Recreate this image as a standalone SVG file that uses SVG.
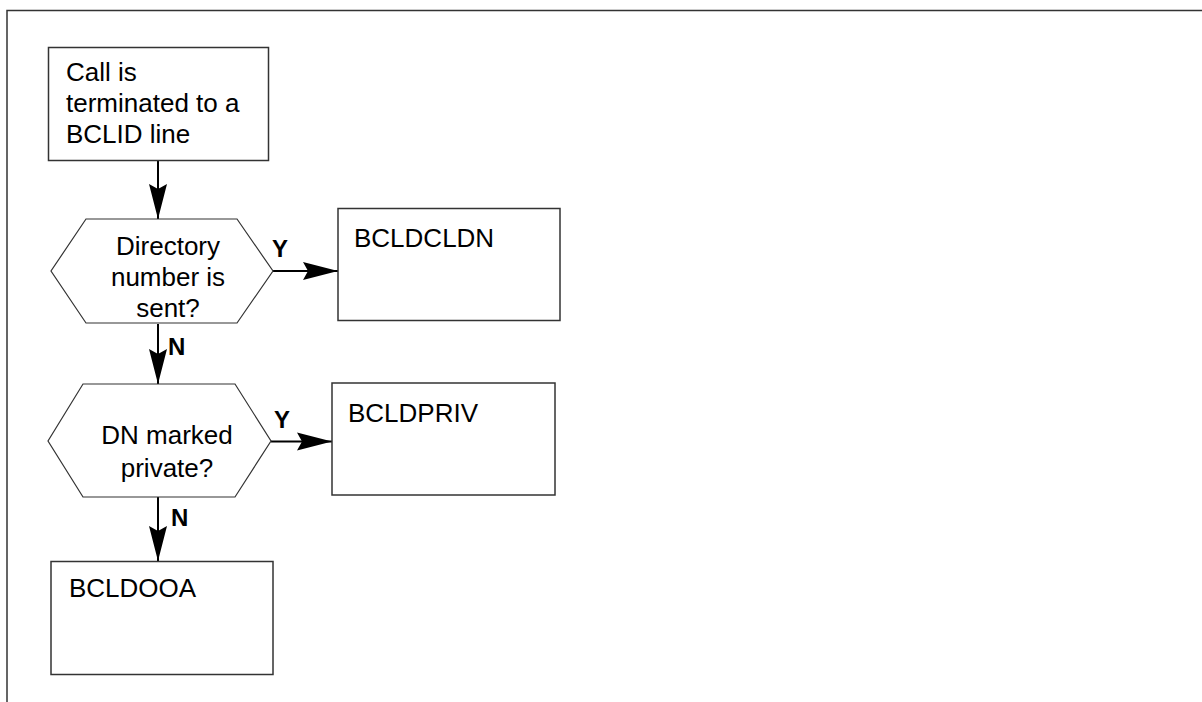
<svg xmlns="http://www.w3.org/2000/svg" width="1202" height="702" viewBox="0 0 1202 702">
<style>
  .box { fill: #ffffff; stroke: #333333; stroke-width: 1.5; }
  .hex { fill: #ffffff; stroke: #333333; stroke-width: 1.2; }
  .frame { fill: none; stroke: #333333; stroke-width: 1.5; }
  .t { font-family: "Liberation Sans", Arial, sans-serif; font-size: 26px; fill: #000000; }
  .c { text-anchor: middle; }
  .lbl { font-family: "Liberation Sans", Arial, sans-serif; font-size: 24px; font-weight: bold; fill: #000000; }
  .conn { fill: none; stroke: #000000; stroke-width: 2; }
</style>
<defs>
  <marker id="ah" markerUnits="userSpaceOnUse" markerWidth="36" markerHeight="20" viewBox="0 0 36 20" refX="35" refY="10" orient="auto">
    <path d="M0,1 L35,10 L0,19 L5,10 Z" fill="#000000"/>
  </marker>
</defs>
<rect width="1202" height="702" fill="#ffffff"/>
<g id="frame">
  <path class="frame" d="M7,702 L7,10.5 L1202,10.5"/>
</g>
<g id="connectors">
  <line class="conn" x1="158" y1="161" x2="158" y2="219" marker-end="url(#ah)"/>
  <line class="conn" x1="273" y1="271" x2="338" y2="271" marker-end="url(#ah)"/>
  <line class="conn" x1="158" y1="324" x2="158" y2="384" marker-end="url(#ah)"/>
  <line class="conn" x1="271" y1="441.5" x2="332" y2="441.5" marker-end="url(#ah)"/>
  <line class="conn" x1="158" y1="497" x2="158" y2="561" marker-end="url(#ah)"/>
  <text class="lbl" x="272" y="257">Y</text>
  <text class="lbl" x="168" y="355">N</text>
  <text class="lbl" x="274" y="428">Y</text>
  <text class="lbl" x="171" y="526">N</text>
</g>
<g id="start">
  <rect class="box" x="48.5" y="47.5" width="220" height="113"/>
  <text class="t" x="66" y="81">Call is</text>
  <text class="t" x="66" y="112">terminated to a</text>
  <text class="t" x="66" y="143">BCLID line</text>
</g>
<g id="decision1">
  <polygon class="hex" points="86,219 237,219 273,271 237,323 86,323 51,271"/>
  <text class="t c" x="168" y="255">Directory</text>
  <text class="t c" x="168" y="286">number is</text>
  <text class="t c" x="168" y="317">sent?</text>
</g>
<g id="bcldcldn">
  <rect class="box" x="338" y="208.5" width="222" height="112"/>
  <text class="t" x="354" y="247">BCLDCLDN</text>
</g>
<g id="decision2">
  <polygon class="hex" points="83,384 235,384 271,441 235,497 83,497 48,441"/>
  <text class="t c" x="167" y="444">DN marked</text>
  <text class="t c" x="167" y="477">private?</text>
</g>
<g id="bcldpriv">
  <rect class="box" x="332" y="383" width="223" height="112"/>
  <text class="t" x="348" y="422">BCLDPRIV</text>
</g>
<g id="bcldooa">
  <rect class="box" x="51" y="561.5" width="222" height="113"/>
  <text class="t" x="69" y="597">BCLDOOA</text>
</g>
</svg>
